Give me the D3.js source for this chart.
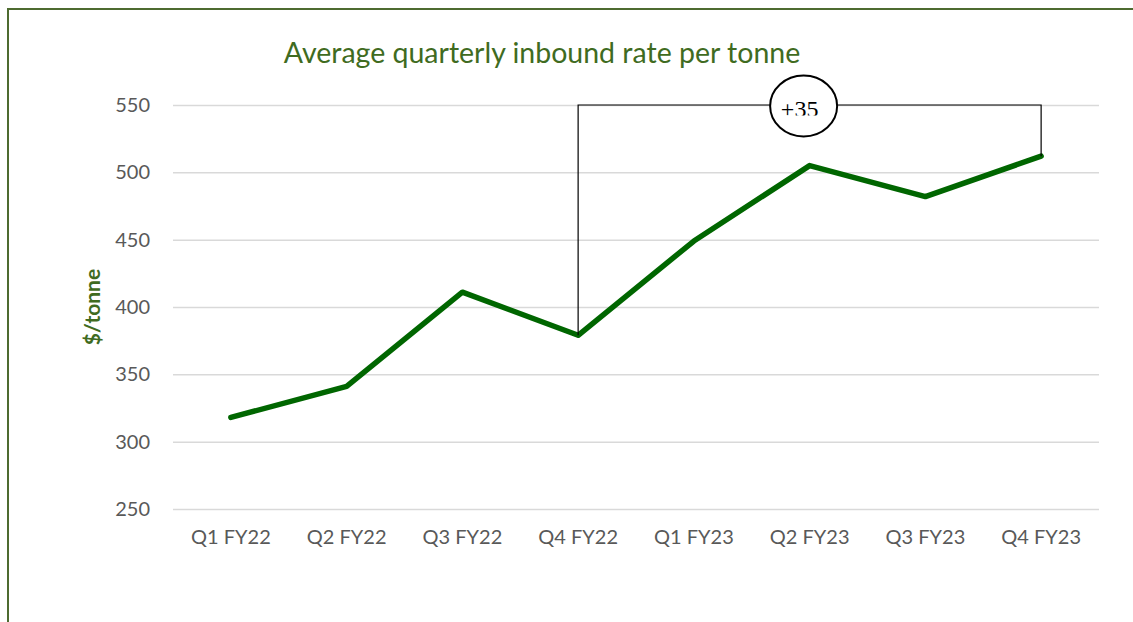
<!DOCTYPE html>
<html>
<head>
<meta charset="utf-8">
<script src="https://cdn.jsdelivr.net/npm/d3@7"></script>
<style>
  body { margin: 0; background: #fff; }
  svg { display: block; }
</style>
</head>
<body>
<div id="chart"></div>
<script>
// chart data
var quarters = ["Q1 FY22", "Q2 FY22", "Q3 FY22", "Q4 FY22", "Q1 FY23", "Q2 FY23", "Q3 FY23", "Q4 FY23"];
var rates = [318, 341, 411, 379, 449, 505, 482, 512];
var yTicks = [250, 300, 350, 400, 450, 500, 550];
var changeFrom = "Q4 FY22";
var changeTo = "Q4 FY23";
var changeLabel = "+35";

var W = 1133, H = 622;
var margin = { top: 105, right: 34, bottom: 113, left: 173 };
var width = W - margin.left - margin.right,
  height = H - margin.top - margin.bottom;

var svg = d3.select("#chart")
  .append("svg")
  .attr("width", W)
  .attr("height", H);

// outer frame (runs off the right and bottom edge like the source)
svg.append("rect")
  .attr("x", 8).attr("y", 9)
  .attr("width", W + 20).attr("height", H + 20)
  .attr("fill", "none")
  .attr("stroke", "#4e6b30")
  .attr("stroke-width", 2);

var g = svg.append("g")
  .attr("transform", "translate(" + margin.left + "," + margin.top + ")");

var x = d3.scaleBand().domain(quarters).range([0, width]);
var y = d3.scaleLinear().domain([250, 550]).range([height, 0]);
var cx = function (q) { return x(q) + x.bandwidth() / 2; };

// gridlines
g.append("g")
  .call(d3.axisLeft(y).tickValues(yTicks).tickSize(-width).tickFormat(""))
  .call(function (a) { a.select(".domain").remove(); })
  .selectAll("line")
  .attr("stroke", "#d9d9d9")
  .attr("stroke-width", 1.5);

// y axis labels
g.append("g")
  .call(d3.axisLeft(y).tickValues(yTicks).tickSize(0).tickPadding(23))
  .call(function (a) { a.select(".domain").remove(); })
  .selectAll("text")
  .attr("fill", "#595959")
  .style("font-family", "Lato, 'Open Sans', sans-serif")
  .style("font-size", "20px");

// x axis labels
g.append("g")
  .attr("transform", "translate(0," + height + ")")
  .call(d3.axisBottom(x).tickSize(0).tickPadding(21))
  .call(function (a) { a.select(".domain").remove(); })
  .selectAll("text")
  .attr("fill", "#595959")
  .style("font-family", "Lato, 'Open Sans', sans-serif")
  .style("font-size", "20px");

// the line
var line = d3.line()
  .x(function (d, i) { return cx(quarters[i]); })
  .y(function (d) { return y(d); });

g.append("path")
  .datum(rates)
  .attr("d", line)
  .attr("fill", "none")
  .attr("stroke", "#006600")
  .attr("stroke-width", 5.5)
  .attr("stroke-linejoin", "round")
  .attr("stroke-linecap", "round");

// change bracket
var bx1 = cx(changeFrom), bx2 = cx(changeTo);
var v1 = rates[quarters.indexOf(changeFrom)], v2 = rates[quarters.indexOf(changeTo)];
var bracketY = y(550);
g.append("path")
  .attr("d", "M" + bx1 + "," + y(v1) + "V" + bracketY + "H" + bx2 + "V" + y(v2))
  .attr("fill", "none")
  .attr("stroke", "#000")
  .attr("stroke-width", 1.2);

// the label sits in an ellipse and its lower part is cut off, as in the source
var ex = (bx1 + bx2) / 2 - 6, ey = bracketY + 1;
g.append("clipPath").attr("id", "ellClip")
  .append("rect")
  .attr("x", ex - 40).attr("y", ey - 40)
  .attr("width", 80).attr("height", 49.5);
g.append("ellipse")
  .attr("cx", ex).attr("cy", ey)
  .attr("rx", 33.5).attr("ry", 30.5)
  .attr("fill", "#fff")
  .attr("stroke", "#000")
  .attr("stroke-width", 2);
g.append("text")
  .attr("clip-path", "url(#ellClip)")
  .attr("x", ex - 4).attr("y", ey + 11)
  .attr("text-anchor", "middle")
  .style("font-family", "'Liberation Serif', 'DejaVu Serif', serif")
  .style("font-size", "24px")
  .attr("fill", "#000")
  .text(changeLabel);

// title
svg.append("text")
  .attr("x", 542).attr("y", 63)
  .attr("text-anchor", "middle")
  .attr("fill", "#3f6b21")
  .style("font-family", "Lato, 'Open Sans', sans-serif")
  .style("font-size", "28.5px")
  .text("Average quarterly inbound rate per tonne");

// y axis title
svg.append("text")
  .attr("transform", "translate(100," + (margin.top + y(400)) + ") rotate(-90)")
  .attr("text-anchor", "middle")
  .attr("fill", "#3f6b21")
  .style("font-family", "Lato, 'Open Sans', sans-serif")
  .style("font-weight", "bold")
  .style("font-size", "21px")
  .text("$/tonne");
</script>
</body>
</html>
